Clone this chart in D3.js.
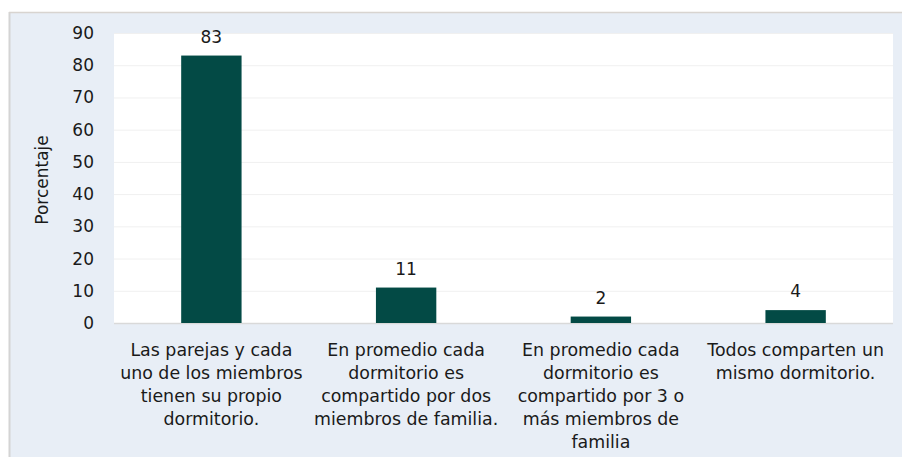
<!DOCTYPE html>
<html>
<head>
<meta charset="utf-8">
<script src="https://cdn.jsdelivr.net/npm/d3@7"></script>
<style>
  body { margin: 0; background: #fff; }
  text { font-family: "DejaVu Sans", sans-serif; fill: #1a1a1a; }
</style>
</head>
<body>
<div id="chart"></div>
<script>
// data
const categories = [
  ["Las parejas y cada", "uno de los miembros", "tienen su propio", "dormitorio."],
  ["En promedio cada", "dormitorio es", "compartido por dos", "miembros de familia."],
  ["En promedio cada", "dormitorio es", "compartido por 3 o", "más miembros de", "familia"],
  ["Todos comparten un", "mismo dormitorio."]
];
const values = [83, 11, 2, 4];
const yTicks = [0, 10, 20, 30, 40, 50, 60, 70, 80, 90];

const W = 902, H = 457;
const plot = { left: 114, right: 893, top: 33, bottom: 323 };

const svg = d3.select("#chart").append("svg")
  .attr("width", W)
  .attr("height", H);

// outer frame
svg.append("rect")
  .attr("x", 10).attr("y", 12)
  .attr("width", W - 10).attr("height", H - 12)
  .style("fill", "#e8eef6");
svg.append("line")
  .attr("x1", 9.5).attr("x2", 9.5).attr("y1", 12).attr("y2", H)
  .style("stroke", "#d4d4d4").style("stroke-width", 2);
svg.append("line")
  .attr("x1", 9).attr("x2", W).attr("y1", 12.5).attr("y2", 12.5)
  .style("stroke", "#d8d4d0").style("stroke-width", 1.5);

// plot area
svg.append("rect")
  .attr("x", plot.left).attr("y", plot.top)
  .attr("width", plot.right - plot.left).attr("height", plot.bottom - plot.top)
  .style("fill", "#fff");

//----------------------------SCALES----------------------------//
const xScale = d3.scaleBand()
  .domain(d3.range(values.length))
  .range([plot.left, plot.right])
  .paddingInner(0.69)
  .paddingOuter(0.345);

const yScale = d3.scaleLinear()
  .domain([0, 90])
  .range([plot.bottom, plot.top]);

//----------------------------GRID------------------------------//
svg.append("g")
  .attr("transform", "translate(" + plot.left + ",0)")
  .call(d3.axisLeft(yScale)
    .tickValues(yTicks.slice(1))
    .tickSize(-(plot.right - plot.left))
    .tickFormat(""))
  .call(g => g.select(".domain").remove())
  .selectAll("line")
  .style("stroke", "#f0f0f0")
  .style("stroke-width", 1);

//-----------------------------AXES-----------------------------//
const yAxis = svg.append("g")
  .attr("transform", "translate(" + plot.left + ",0)")
  .call(d3.axisLeft(yScale).tickValues(yTicks).tickSize(0).tickPadding(20));
yAxis.select(".domain").remove();
yAxis.selectAll("text")
  .style("font-family", "'DejaVu Sans', sans-serif")
  .style("font-size", "17px")
  .style("fill", "#1a1a1a");

// baseline
svg.append("line")
  .attr("x1", plot.left).attr("x2", plot.right)
  .attr("y1", yScale(0) + 0.5).attr("y2", yScale(0) + 0.5)
  .style("stroke", "#d9d9d9").style("stroke-width", 1.5);

svg.append("text")
  .attr("transform", "translate(48," + ((plot.top + plot.bottom) / 2 + 2) + ") rotate(-90)")
  .attr("text-anchor", "middle")
  .style("font-size", "17px")
  .text("Porcentaje");

//----------------------------BARS------------------------------//
svg.selectAll(".bar")
  .data(values)
  .enter()
  .append("rect")
  .attr("class", "bar")
  .attr("x", (d, i) => xScale(i))
  .attr("y", d => yScale(d))
  .attr("width", xScale.bandwidth())
  .attr("height", d => yScale(0) - yScale(d))
  .style("fill", "#034a45");

svg.selectAll(".val")
  .data(values)
  .enter()
  .append("text")
  .attr("class", "val")
  .attr("x", (d, i) => xScale(i) + xScale.bandwidth() / 2)
  .attr("y", d => yScale(d) - 13)
  .attr("text-anchor", "middle")
  .style("font-size", "17px")
  .text(d => d);

//--------------------------CATEGORIES--------------------------//
const cats = svg.selectAll(".cat")
  .data(categories)
  .enter()
  .append("text")
  .attr("class", "cat")
  .attr("text-anchor", "middle")
  .style("font-size", "17.4px");

cats.selectAll("tspan")
  .data((d, i) => d.map(s => ({ s: s, i: i })))
  .enter()
  .append("tspan")
  .attr("x", d => xScale(d.i) + xScale.bandwidth() / 2)
  .attr("y", (d, j) => 356 + j * 23)
  .text(d => d.s);
</script>
</body>
</html>
